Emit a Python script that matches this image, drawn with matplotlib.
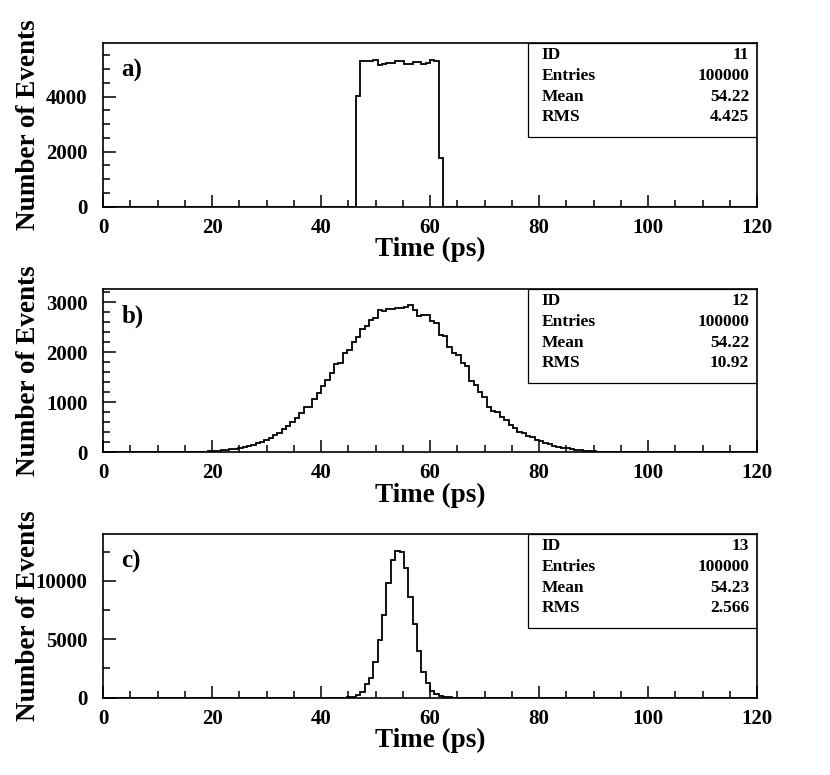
import numpy as np
import matplotlib
matplotlib.use('Agg')
import matplotlib.pyplot as plt
from matplotlib.ticker import MultipleLocator

plt.rcParams['font.family'] = ['Liberation Serif', 'DejaVu Serif']
plt.rcParams['font.weight'] = 'bold'

# binning: 150 bins de 0 a 120 ps
n_bins = 150
x_min, x_max = 0, 120

# histograma a)
a_first_bin = 58
a_counts = [4040, 5290, 5290, 5300, 5330, 5150, 5200, 5210, 5230, 5310, 5310,
            5200, 5200, 5250, 5250, 5200, 5230, 5320, 5280, 1780]

# histograma b)
b_first_bin = 17
b_counts = [3, 4, 5, 8, 9, 13, 15, 20, 25, 31, 40, 48, 60, 72, 90, 105, 128, 152,
            182, 210, 255, 290, 345, 395, 465, 525, 605, 680, 790, 905, 915, 1070,
            1190, 1330, 1450, 1580, 1760, 1790, 1980, 2040, 2200, 2300, 2470, 2520,
            2650, 2690, 2850, 2820, 2865, 2860, 2885, 2890, 2900, 2955, 2850, 2720,
            2755, 2750, 2620, 2585, 2355, 2320, 2100, 1985, 1950, 1785, 1720, 1420,
            1350, 1215, 1115, 915, 830, 800, 714, 650, 550, 480, 410, 380, 320, 300,
            250, 220, 180, 160, 130, 112, 95, 80, 62, 48, 38, 30, 22, 17, 12, 9, 6,
            4, 3, 2]

# histograma c)
c_first_bin = 54
c_counts = [5, 15, 40, 95, 200, 500, 1150, 1660, 3080, 4930, 7070, 9780, 11770,
            12540, 12430, 11060, 8580, 6270, 3990, 2230, 1230, 570, 320, 120, 50,
            20, 8]

panel_names = ['a)', 'b)', 'c)']
hist_ids = [11, 12, 13]
entries = [100000, 100000, 100000]
means = ['54.22', '54.22', '54.23']
rmss = ['4.425', '10.92', '2.566']
y_tops = [5940, 3268, 13970]
y_majors = [2000, 1000, 5000]
y_minors = [500, 200, 2500]


def llenar(first, counts):
    h = np.zeros(n_bins)
    h[first:first + len(counts)] = counts
    return h


hists = [llenar(a_first_bin, a_counts), llenar(b_first_bin, b_counts),
         llenar(c_first_bin, c_counts)]
edges = np.linspace(x_min, x_max, n_bins + 1)

fig = plt.figure(figsize=(8.3, 7.75), dpi=100)
bottoms = [0.7333, 0.4164, 0.0997]
for i in range(3):
    ax = fig.add_axes([0.1241, bottoms[i], 0.788, 0.2108])
    ax.stairs(hists[i], edges, baseline=0, color='black', linewidth=1.3)
    ax.set_xlim(x_min, x_max)
    ax.set_ylim(0, y_tops[i])
    ax.xaxis.set_major_locator(MultipleLocator(20))
    ax.xaxis.set_minor_locator(MultipleLocator(5))
    ax.yaxis.set_major_locator(MultipleLocator(y_majors[i]))
    ax.yaxis.set_minor_locator(MultipleLocator(y_minors[i]))
    ax.tick_params(which='both', direction='in', top=False, right=False,
                   width=1.1, labelsize=15)
    ax.tick_params(which='major', length=9, pad=8)
    ax.tick_params(which='minor', length=5)
    ax.tick_params(axis='y', which='major', pad=11)
    for s in ax.spines.values():
        s.set_linewidth(1.2)
    ax.set_xlabel('Time (ps)', fontsize=19.5, fontweight='bold')
    ax.set_ylabel('Number of Events', fontsize=19.5, fontweight='bold')
    ax.xaxis.set_label_coords(0.5, -0.185)
    ax.yaxis.set_label_coords(-0.095, 0.5)
    ax.text(0.028, 0.835, panel_names[i], transform=ax.transAxes, fontsize=18,
            fontweight='bold', va='center', ha='left')

    # caja de estadisticas
    ax.add_patch(plt.Rectangle((0.65, 0.425), 0.35, 0.575, transform=ax.transAxes,
                               fill=False, edgecolor='black', linewidth=0.9))
    filas = [('ID', str(hist_ids[i])), ('Entries', str(entries[i])),
             ('Mean', means[i]), ('RMS', rmss[i])]
    ys = [0.927, 0.798, 0.670, 0.547]
    for (nombre, valor), yy in zip(filas, ys):
        ax.text(0.671, yy, nombre, transform=ax.transAxes, fontsize=12.5,
                fontweight='bold', va='center', ha='left')
        ax.text(0.988, yy, valor, transform=ax.transAxes, fontsize=12.5,
                fontweight='bold', va='center', ha='right')

fig.savefig('out.png', dpi=100)
